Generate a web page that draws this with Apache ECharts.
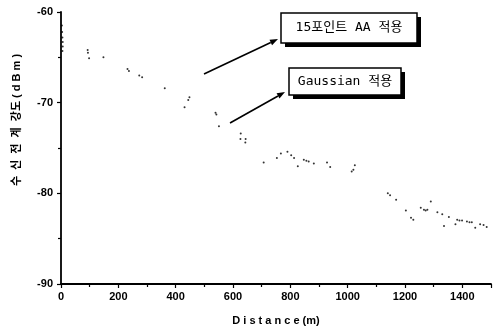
<!DOCTYPE html>
<html>
<head>
<meta charset="utf-8">
<script src="https://cdn.jsdelivr.net/npm/echarts@6/dist/echarts.min.js"></script>
<style>html,body{margin:0;padding:0;background:#fff;}#c{width:494px;height:331px;}</style>
</head>
<body>
<div id="c"></div>
<script>
// Data
var distance = [3,4,5,6,6,5,
  93,94,98,148,232,237,273,283,362,444,448,431,
  539,542,551,626,627,644,643,
  707,753,767,790,803,813,826,847,856,864,882,928,939,1014,1020,1025,
  1140,1148,1169,1203,1221,1229,1255,1266,1272,1278,1290,1313,1330,1336,1353,1376,1382,1390,1399,1416,1425,1433,1445,1462,1474,1485];
var rssi = [-61.5,-62.2,-62.8,-63.3,-63.8,-64.3,
  -64.2,-64.5,-65.1,-65.0,-66.3,-66.5,-67.0,-67.2,-68.4,-69.7,-69.4,-70.5,
  -71.1,-71.3,-72.6,-74.0,-73.4,-74.0,-74.4,
  -76.6,-76.1,-75.6,-75.4,-75.8,-76.1,-77.0,-76.3,-76.4,-76.5,-76.7,-76.6,-77.1,-77.6,-77.4,-76.9,
  -80.0,-80.2,-80.7,-81.9,-82.7,-82.9,-81.6,-81.8,-81.9,-81.8,-80.9,-82.1,-82.3,-83.6,-82.6,-83.4,-82.9,-83.0,-83.0,-83.1,-83.2,-83.2,-83.8,-83.4,-83.5,-83.7];
var xTicks = {min: 0, max: 1500, interval: 200};
var yTicks = {min: -90, max: -60, interval: 10};
var xName = 'D i s t a n c e (m)';
var yName = '수  신  전  계  강도 ( d B m )';
var labelAA = '15포인트 AA 적용';
var labelGauss = 'Gaussian 적용';

var points = distance.map(function (d, i) { return [d, rssi[i]]; });

var chart = echarts.init(document.getElementById('c'), null, {renderer: 'canvas'});

function arrow(x1, y1, x2, y2) {
  var ang = Math.atan2(y2 - y1, x2 - x1);
  var L = 8, W = 3;
  var bx = x2 - L * Math.cos(ang), by = y2 - L * Math.sin(ang);
  var px = -Math.sin(ang) * W, py = Math.cos(ang) * W;
  return [
    {type: 'line', shape: {x1: x1, y1: y1, x2: bx, y2: by}, style: {stroke: '#000', lineWidth: 1.6}},
    {type: 'polygon', shape: {points: [[x2, y2], [bx + px, by + py], [bx - px, by - py]]}, style: {fill: '#000'}}
  ];
}

function box(x, y, w, h, text) {
  return [
    {type: 'rect', shape: {x: x + 4, y: y + 4, width: w, height: h}, style: {fill: '#000'}},
    {type: 'rect', shape: {x: x, y: y, width: w, height: h}, style: {fill: '#fff', stroke: '#000', lineWidth: 1.5}},
    {type: 'text', x: x + w / 2, y: y + h / 2, style: {text: text, fill: '#000', font: '13px "DejaVu Sans Mono", "Noto Sans CJK KR"', align: 'center', verticalAlign: 'middle'}}
  ];
}

var graphics = [].concat(
  box(281, 13, 136, 30, labelAA),
  box(289, 68, 112, 27, labelGauss),
  arrow(204, 74, 278, 39),
  arrow(230, 123, 285, 92),
  [{type: 'text', x: 17, y: 120, rotation: Math.PI / 2,
    style: {text: yName, fill: '#000', font: 'bold 11px "Liberation Sans", Arial, "Noto Sans CJK KR"', align: 'center', verticalAlign: 'middle'}}]
);

chart.setOption({
  animation: false,
  backgroundColor: '#fff',
  grid: {left: 61, right: 0, top: 12, bottom: 44, containLabel: false},
  xAxis: {
    type: 'value', min: xTicks.min, max: xTicks.max, interval: xTicks.interval,
    name: xName, nameLocation: 'middle', nameGap: 31,
    nameTextStyle: {color: '#000', fontSize: 11, fontWeight: 'bold', fontFamily: 'Liberation Sans'},
    axisLine: {show: true, lineStyle: {color: '#000', width: 1.8}},
    axisTick: {show: true, length: 4, lineStyle: {color: '#000', width: 1.2}},
    minorTick: {show: true, splitNumber: 2, length: 3, lineStyle: {color: '#000', width: 1.2}},
    axisLabel: {color: '#000', fontSize: 11, fontWeight: 'bold', fontFamily: 'Liberation Sans', margin: 7,
      formatter: function (v) { return v >= 1500 ? '' : String(v); }},
    splitLine: {show: false}
  },
  yAxis: {
    type: 'value', min: yTicks.min, max: yTicks.max, interval: yTicks.interval,
    axisLine: {show: true, lineStyle: {color: '#000', width: 1.8}},
    axisTick: {show: true, length: 4, lineStyle: {color: '#000', width: 1.2}},
    minorTick: {show: true, splitNumber: 2, length: 3, lineStyle: {color: '#000', width: 1.2}},
    axisLabel: {color: '#000', fontSize: 11, fontWeight: 'bold', fontFamily: 'Liberation Sans', margin: 8},
    splitLine: {show: false}
  },
  series: [{
    name: '수신 전계강도',
    type: 'scatter',
    data: points,
    symbol: 'circle',
    symbolSize: 2,
    itemStyle: {color: '#000'},
    clip: false
  }],
  graphic: graphics
});
</script>
</body>
</html>
